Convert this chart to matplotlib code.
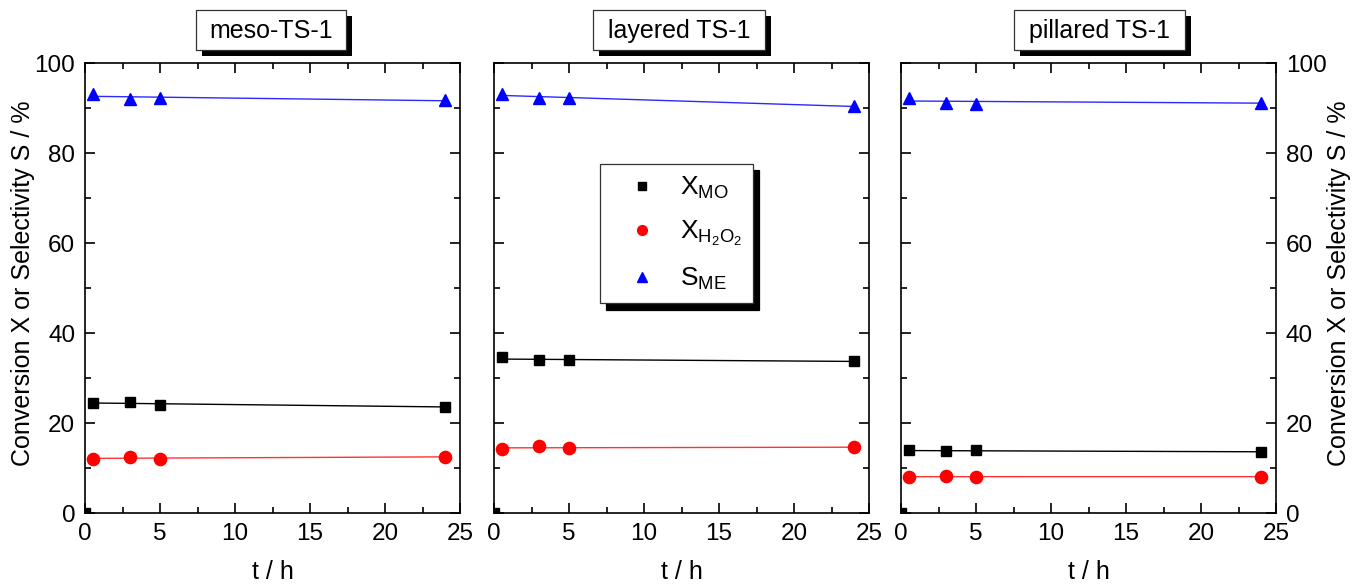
import numpy as np
import matplotlib
matplotlib.use("Agg")
import matplotlib.pyplot as plt
from matplotlib.patches import Rectangle
from matplotlib.ticker import MultipleLocator
from matplotlib.lines import Line2D

plt.rcParams['font.family'] = ['Liberation Sans', 'DejaVu Sans']
plt.rcParams['mathtext.fontset'] = 'custom'
plt.rcParams['mathtext.rm'] = 'Liberation Sans'
plt.rcParams['mathtext.it'] = 'Liberation Sans'

# ---------------- data ----------------
panel_titles = ['meso-TS-1', 'layered TS-1', 'pillared TS-1']
t_h = [0.5, 3, 5, 24]

x_mo_meso = [24.4, 24.75, 23.9, 23.6]
x_h2o2_meso = [12.1, 12.5, 11.9, 12.5]
s_me_meso = [93.2, 92.0, 92.2, 91.7]

x_mo_layered = [34.6, 33.9, 33.9, 33.75]
x_h2o2_layered = [14.2, 14.9, 14.4, 14.6]
s_me_layered = [93.2, 92.2, 92.2, 90.4]

x_mo_pillared = [13.9, 13.75, 13.9, 13.6]
x_h2o2_pillared = [8.1, 8.2, 7.9, 8.1]
s_me_pillared = [92.2, 91.2, 91.0, 91.2]

origin_t = [0]
origin_v = [0]

series_labels = [r'$\mathrm{X_{MO}}$', r'$\mathrm{X_{H_2O_2}}$', r'$\mathrm{S_{ME}}$']
x_ticks = [0, 5, 10, 15, 20, 25]
y_ticks = [0, 20, 40, 60, 80, 100]
x_label = 't / h'
y_label = 'Conversion X or Selectivity S / %'

panel_data = [
    (x_mo_meso, x_h2o2_meso, s_me_meso),
    (x_mo_layered, x_h2o2_layered, s_me_layered),
    (x_mo_pillared, x_h2o2_pillared, s_me_pillared),
]

# ---------------- layout ----------------
W, H = 1353, 586
fig = plt.figure(figsize=(W / 100, H / 100), dpi=100)

def fx(px):
    return px / W

def fy(py):
    return 1 - py / H

ax_left_px = [85, 494, 901]
ax_w_px = 375
ax_top_px, ax_bot_px = 63, 513

styles = [
    dict(marker='s', color='black', ms=7.8, line='black'),
    dict(marker='o', color='#ff0000', ms=8.8, line='#ff3333'),
    dict(marker='^', color='#0000ff', ms=9.2, line='#2a2aff'),
]

tick_fs = 17.5
label_fs = 18
axes = []
for i in range(3):
    ax = fig.add_axes([fx(ax_left_px[i]), fy(ax_bot_px),
                       ax_w_px / W, (ax_bot_px - ax_top_px) / H])
    axes.append(ax)
    t_arr = np.array(t_h)
    for k, (vals, st) in enumerate(zip(panel_data[i], styles)):
        vals = np.array(vals)
        p = np.polyfit(t_arr, vals, 1)
        xx = np.array([t_arr[0], t_arr[-1]])
        ax.plot(xx, np.polyval(p, xx), color=st['line'], lw=1.0, zorder=2)
        ax.plot(t_arr, vals, linestyle='none', marker=st['marker'],
                color=st['color'], ms=st['ms'], mec=st['color'], zorder=3,
                label=series_labels[k])
    ax.plot(origin_t, origin_v, linestyle='none', marker='s', color='black',
            ms=7.5, clip_on=True, zorder=3)

    ax.set_xlim(0, 25)
    ax.set_ylim(0, 100)
    ax.set_xticks(x_ticks)
    ax.set_yticks(y_ticks)
    ax.xaxis.set_minor_locator(MultipleLocator(2.5))
    ax.yaxis.set_minor_locator(MultipleLocator(10))
    ax.tick_params(which='both', direction='in', top=True, right=True,
                   width=1.2, labelsize=tick_fs, pad=7)
    ax.tick_params(which='major', length=7)
    ax.tick_params(which='minor', length=4)
    for sp in ax.spines.values():
        sp.set_linewidth(1.2)
    ax.set_xlabel(x_label, fontsize=label_fs)
    ax.xaxis.set_label_coords(0.5, -0.105)
    if i == 0:
        ax.tick_params(labelleft=True, labelright=False)
    elif i == 1:
        ax.tick_params(labelleft=False, labelright=False)
    else:
        ax.tick_params(labelleft=False, labelright=True)

# y labels
fig.text(fx(23), fy(283), y_label, rotation=90, ha='center', va='center',
         fontsize=label_fs)
fig.text(fx(1339), fy(283), y_label, rotation=90, ha='center', va='center',
         fontsize=label_fs)

# title boxes with solid shadow
box_px = [(196, 346), (593, 765), (1014, 1185)]
box_top, box_bot = 10, 50
shadow_off = 6
for (x0, x1), title in zip(box_px, panel_titles):
    fig.patches.append(Rectangle((fx(x0 + shadow_off), fy(box_bot + shadow_off)),
                                 (x1 - x0) / W, (box_bot - box_top) / H,
                                 transform=fig.transFigure, facecolor='black',
                                 edgecolor='black', lw=0, zorder=1))
    fig.patches.append(Rectangle((fx(x0), fy(box_bot)),
                                 (x1 - x0) / W, (box_bot - box_top) / H,
                                 transform=fig.transFigure, facecolor='white',
                                 edgecolor='#333333', lw=0.9, zorder=2))
    fig.text(fx((x0 + x1) / 2), fy((box_top + box_bot) / 2 + 1), title,
             ha='center', va='center', fontsize=18, zorder=3)

# legend in middle panel
handles = [Line2D([], [], linestyle='none', marker=st['marker'], color=st['color'],
                  ms=st['ms'] * 0.8) for st in styles]
leg = axes[1].legend(handles, series_labels, loc='upper left',
                     bbox_to_anchor=(0.283, 0.776), borderaxespad=0,
                     fontsize=19, frameon=True, fancybox=False,
                     edgecolor='#333333', framealpha=1,
                     shadow={'ox': 4.5, 'oy': -4.5, 'color': 'black', 'alpha': 1},
                     borderpad=0.42, handlelength=2.3, handletextpad=0.3,
                     labelspacing=0.68)
leg.get_frame().set_linewidth(0.9)

fig.savefig('out.png', dpi=100)
